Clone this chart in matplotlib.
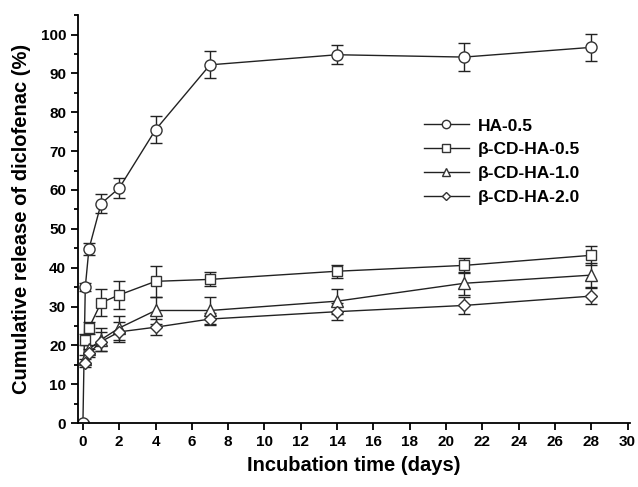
import matplotlib
matplotlib.use('Agg')
import matplotlib.pyplot as plt
import numpy as np
from matplotlib.ticker import MultipleLocator

plt.rcParams['font.family'] = ['Liberation Sans', 'DejaVu Sans']
plt.rcParams['font.weight'] = 'bold'

days = [0, 0.13, 0.33, 1, 2, 4, 7, 14, 21, 28]
days_cd = [0.13, 0.33, 1, 2, 4, 7, 14, 21, 28]

ha05 = [0, 35, 44.8, 56.5, 60.5, 75.5, 92.2, 94.8, 94.2, 96.7]
ha05_err = [0.5, 1, 1.5, 2.5, 2.5, 3.5, 3.5, 2.5, 3.5, 3.5]

cd05 = [21.5, 24.5, 31, 33, 36.5, 37, 39.1, 40.6, 43.2]
cd05_err = [1.5, 1.5, 3.5, 3.5, 4, 1.8, 1.7, 2, 2.5]

cd10 = [16.5, 19, 21.5, 24.5, 29, 29, 31.4, 36, 38.1]
cd10_err = [1, 1, 3, 3, 3.5, 3.5, 3.2, 3, 3]

cd20 = [15.5, 18, 21, 23.5, 24.7, 26.8, 28.7, 30.3, 32.7]
cd20_err = [1, 1, 2.5, 2.5, 2, 1.5, 2.2, 2.2, 2]

series = [
    (days, ha05, ha05_err, 'o', 'HA-0.5'),
    (days_cd, cd05, cd05_err, 's', 'β-CD-HA-0.5'),
    (days_cd, cd10, cd10_err, '^', 'β-CD-HA-1.0'),
    (days_cd, cd20, cd20_err, 'D', 'β-CD-HA-2.0'),
]

fig = plt.figure(figsize=(6.38, 4.87), dpi=100)
ax = fig.add_axes([0.122, 0.131, 0.866, 0.838])

for x, y, e, m, lab in series:
    ms = 6 if m == 'D' else (7 if m == 's' else 8)
    ax.errorbar(x, y, yerr=e, marker=m, color='#222222', mfc='white',
                mec='#333333', ms=ms, lw=1.0, elinewidth=1.0, capsize=4,
                capthick=1.0, label=lab)

ax.set_xlim(-0.28, 30.15)
ax.set_ylim(0, 105)
ax.xaxis.set_major_locator(MultipleLocator(2))
ax.yaxis.set_major_locator(MultipleLocator(10))
ax.yaxis.set_minor_locator(MultipleLocator(5))
ax.tick_params(axis='both', which='major', direction='out', length=5, width=1.3,
               labelsize=11)
ax.tick_params(axis='y', which='minor', direction='out', length=3, width=1.3)
for s in ['top', 'right']:
    ax.spines[s].set_visible(False)
for s in ['left', 'bottom']:
    ax.spines[s].set_linewidth(1.3)

ax.set_xlabel('Incubation time (days)', fontsize=14.5, fontweight='bold', labelpad=5)
ax.set_ylabel('Cumulative release of diclofenac (%)', fontsize=14.5, fontweight='bold',
              labelpad=7)

handles, labels = ax.get_legend_handles_labels()
handles = [h[0] for h in handles]
ax.legend(handles, labels, loc='upper left', bbox_to_anchor=(0.626, 0.747),
          frameon=False, fontsize=12.5, handlelength=2.6, labelspacing=0.5,
          handletextpad=0.5, borderaxespad=0, borderpad=0, markerscale=0.75)

fig.savefig('out.png', dpi=100)
